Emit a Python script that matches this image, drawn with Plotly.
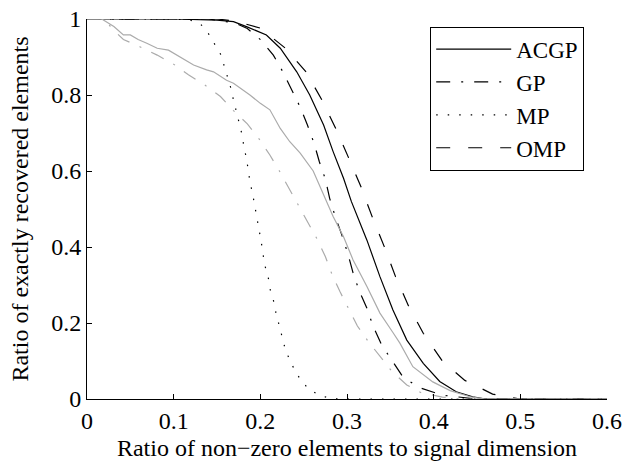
import plotly.graph_objects as go

# ---- data ----
acgp_x = [0, 0.02, 0.1, 0.15, 0.169, 0.184, 0.207, 0.223, 0.242, 0.257, 0.273, 0.284, 0.296, 0.305,
          0.323, 0.338, 0.353, 0.369, 0.388, 0.407, 0.426, 0.445, 0.46, 0.5, 0.6]
acgp_y = [1, 1, 1, 0.997, 0.993, 0.98, 0.958, 0.923, 0.861, 0.8, 0.721, 0.651, 0.581, 0.52,
          0.418, 0.322, 0.234, 0.155, 0.094, 0.046, 0.019, 0.006, 0, 0, 0]

gp_x = [0, 0.14, 0.17, 0.185, 0.201, 0.215, 0.226, 0.236, 0.246, 0.254, 0.262, 0.268, 0.275, 0.28,
        0.286, 0.294, 0.301, 0.307, 0.314, 0.323, 0.33, 0.34, 0.352, 0.364, 0.382, 0.41, 0.45, 0.6]
gp_y = [1, 1, 0.99, 0.975, 0.944, 0.905, 0.861, 0.816, 0.768, 0.723, 0.673, 0.625, 0.579, 0.528,
        0.483, 0.432, 0.382, 0.332, 0.285, 0.239, 0.192, 0.142, 0.102, 0.06, 0.031, 0.01, 0, 0]

mp_x = [0, 0.1, 0.119, 0.131, 0.14, 0.147, 0.154, 0.158, 0.162, 0.166, 0.169, 0.173, 0.176, 0.179,
        0.181, 0.184, 0.186, 0.188, 0.191, 0.196, 0.199, 0.201, 0.205, 0.209, 0.211, 0.215, 0.218,
        0.221, 0.224, 0.228, 0.233, 0.239, 0.246, 0.255, 0.267, 0.28, 0.29, 0.6]
mp_y = [1, 1, 0.997, 0.987, 0.962, 0.936, 0.908, 0.879, 0.848, 0.818, 0.787, 0.752, 0.724, 0.695,
        0.664, 0.633, 0.603, 0.572, 0.541, 0.476, 0.445, 0.414, 0.353, 0.322, 0.291, 0.261, 0.227,
        0.199, 0.168, 0.138, 0.107, 0.079, 0.052, 0.028, 0.011, 0.002, 0, 0]

omp_x = [0, 0.15, 0.17, 0.2, 0.229, 0.253, 0.271, 0.287, 0.302, 0.316, 0.329, 0.343, 0.356, 0.371,
         0.388, 0.41, 0.436, 0.468, 0.5, 0.6]
omp_y = [1, 1, 0.995, 0.976, 0.923, 0.86, 0.787, 0.712, 0.634, 0.559, 0.48, 0.401, 0.322, 0.245,
         0.173, 0.1, 0.049, 0.013, 0, 0]

gray_solid_x = [0, 0.017, 0.031, 0.042, 0.05, 0.059, 0.069, 0.081, 0.094, 0.107, 0.123, 0.138, 0.146,
                0.161, 0.169, 0.188, 0.2, 0.211, 0.223, 0.234, 0.246, 0.261, 0.276, 0.284, 0.296,
                0.307, 0.323, 0.338, 0.353, 0.361, 0.376, 0.399, 0.419, 0.442, 0.46, 0.6]
gray_solid_y = [1, 1, 0.98, 0.958, 0.958, 0.946, 0.936, 0.923, 0.918, 0.901, 0.879, 0.866, 0.861,
                0.839, 0.831, 0.8, 0.778, 0.761, 0.712, 0.677, 0.647, 0.6, 0.52, 0.48, 0.427,
                0.366, 0.296, 0.226, 0.175, 0.147, 0.085, 0.045, 0.022, 0.006, 0, 0]

gray_dd_x = [0, 0.02, 0.03, 0.042, 0.061, 0.081, 0.1, 0.117, 0.136, 0.154, 0.169, 0.185, 0.199, 0.211,
             0.222, 0.233, 0.243, 0.254, 0.265, 0.275, 0.283, 0.292, 0.302, 0.312, 0.324, 0.335,
             0.352, 0.369, 0.385, 0.41, 0.43, 0.6]
gray_dd_y = [1, 1, 0.972, 0.946, 0.927, 0.905, 0.881, 0.853, 0.826, 0.796, 0.759, 0.724, 0.683, 0.642,
             0.6, 0.554, 0.515, 0.47, 0.423, 0.375, 0.326, 0.282, 0.236, 0.192, 0.153, 0.12,
             0.072, 0.037, 0.017, 0.005, 0, 0]

x_ticks = [0, 0.1, 0.2, 0.3, 0.4, 0.5, 0.6]
y_ticks = [0, 0.2, 0.4, 0.6, 0.8, 1]
y_tick_text = ["0", "0.2", "0.4", "0.6", "0.8", "1"]

FONT = "Liberation Serif"
GRAY = "#ababab"
DASHDOT = "14px,11px,2px,11px"

fig = go.Figure()
fig.add_trace(go.Scatter(x=acgp_x, y=acgp_y, mode="lines", name="ACGP",
                         line=dict(color="black", width=1.2)))
fig.add_trace(go.Scatter(x=gp_x, y=gp_y, mode="lines", name="GP",
                         line=dict(color="black", width=1.2, dash=DASHDOT)))
fig.add_trace(go.Scatter(x=mp_x, y=mp_y, mode="lines", name="MP",
                         line=dict(color="black", width=1.2, dash="1.5px,10px")))
fig.add_trace(go.Scatter(x=omp_x, y=omp_y, mode="lines", name="OMP",
                         line=dict(color="black", width=1.2, dash="14px,18px")))
fig.add_trace(go.Scatter(x=gray_solid_x, y=gray_solid_y, mode="lines", showlegend=False,
                         line=dict(color=GRAY, width=1.2)))
fig.add_trace(go.Scatter(x=gray_dd_x, y=gray_dd_y, mode="lines", showlegend=False,
                         line=dict(color=GRAY, width=1.2, dash=DASHDOT)))

axis_common = dict(showgrid=False, zeroline=False, showline=True, linecolor="black", linewidth=1,
                   ticks="inside", ticklen=5, tickcolor="black", tickwidth=1, automargin=False,
                   tickfont=dict(family=FONT, size=24, color="black"), mirror=False)

fig.update_layout(
    width=637, height=461,
    margin=dict(l=87, r=30, t=19, b=62),
    paper_bgcolor="white", plot_bgcolor="white",
    font=dict(family=FONT, size=24, color="black"),
    showlegend=True,
    legend=dict(x=0.66, y=0.98, xanchor="left", yanchor="top",
                bgcolor="white", bordercolor="black", borderwidth=1,
                font=dict(family=FONT, size=23, color="black"),
                itemwidth=75, tracegroupgap=0),
    xaxis=dict(range=[0, 0.6], tickvals=x_ticks, ticktext=[str(v) for v in x_ticks],
               title=dict(text="Ratio of non\u2212zero elements to signal dimension",
                          font=dict(family=FONT, size=24)),
               **axis_common),
    yaxis=dict(range=[0, 1], tickvals=y_ticks, ticktext=y_tick_text,
               title=dict(text="Ratio of exactly recovered elements",
                          font=dict(family=FONT, size=24)),
               **axis_common),
)

fig.write_html("out.html", config={"displayModeBar": False},
               post_script="document.body.style.margin='0px';document.body.style.padding='0px';")
